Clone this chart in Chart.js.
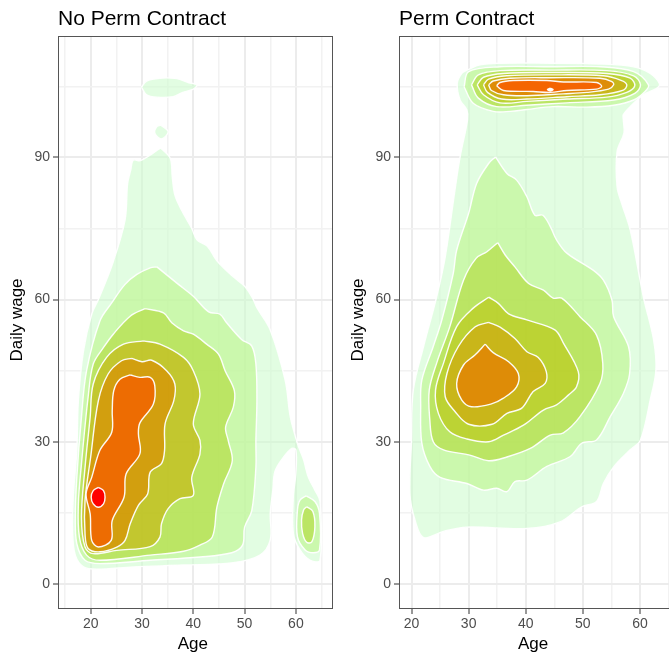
<!DOCTYPE html>
<html>
<head>
<meta charset="utf-8">
<title>Daily wage by age</title>
<script src="https://cdn.jsdelivr.net/npm/chart.js@4"></script>
<style>
  html, body { margin: 0; background: #fff; overflow: hidden; }
  canvas { position: absolute; top: 0; }
  #noPerm { left: 0; }
  #perm { left: 341px; }
</style>
</head>
<body>
<canvas id="noPerm" width="334" height="659"></canvas>
<canvas id="perm" width="332" height="659"></canvas>
<script>
// tick values
const yMajor = [0, 30, 60, 90];
const yMinor = [15, 45, 75, 105];
const xMajor = [20, 30, 40, 50, 60];
const xMinorNoPerm = [15, 25, 35, 45, 55, 65];
const xMinorPerm = [25, 35, 45, 55, 65];

// contours, [age, wage]
const noPermOuter = [[33.6,92],[35.5,89.8],[35.9,85.9],[36.4,82.1],[37.7,78.9],[39.7,75],[40.7,72.6],[42.7,71.3],[44.6,68.2],[47.8,64.8],[50.1,62.7],[51.7,60],[52.4,58.3],[55,53.6],[57.9,43],[58.9,35.3],[60,30.7],[60.5,29],[61.5,26.2],[62.4,22.6],[63.7,19.8],[64.7,17.4],[64.7,5],[62.8,5],[60.8,7.2],[59.5,10.7],[59.5,18.4],[60,23.4],[60,28.3],[59.2,28.6],[57.2,26.2],[55.9,23.7],[55.5,19.8],[55,14.9],[55,9.3],[53,6.1],[47.8,4.5],[38.1,4],[28.3,3.6],[21.2,3.1],[18.6,3.6],[17,6.1],[16.5,10.6],[16.6,18.3],[17.3,28.2],[17.6,38.7],[18.6,49.2],[20.2,56.9],[21.5,60],[24.4,68],[26.7,76.8],[27.2,84.5],[27.8,87.3],[28.3,89.4],[29.7,89.3],[31.9,90.7]];
const noPermTopBlob = [[29.9,104.8],[30.9,106.1],[33.5,106.7],[36.8,106.6],[39,105.8],[40.7,105.3],[40,104.4],[37.7,103.6],[36.1,102.8],[32.9,102.7],[30.9,103.2]];
const noPermSmallBlob = [[33.7,96.8],[35.1,95.4],[33.8,93.9],[32.5,95.1],[32.9,96.5]];
const noPermLevel2 = [[32.9,66.9],[37.1,63.2],[40,60.7],[43,57.4],[45.2,56.9],[46.5,55.1],[49.4,51.6],[51.4,50.2],[52.2,46.4],[52.4,38.7],[52.2,30.2],[52.2,24.6],[51.4,15.5],[50,12],[49.6,8.2],[47.5,6.6],[41.3,5.7],[31.6,5],[21.8,4.3],[18.9,5],[17.3,8.5],[17,14.1],[17.3,22.5],[18.2,35.2],[19.2,45],[21.8,55.5],[24.1,59.3],[26.7,63.2],[29,65.3],[31.6,66.7]];
const noPermLevel2Side = [[62,18.6],[63.7,17.4],[64.6,14.9],[64.6,7.2],[63.4,6.6],[61.8,7.2],[60.3,10],[60.3,15.6],[60.8,17.7]];
const noPermLevel3 = [[30.6,58.1],[34.2,57.2],[35.8,55.1],[38.1,53.4],[40,52.7],[42.6,50.6],[44.9,48.5],[46.2,45],[48,40.8],[47.8,37.3],[46.3,33.1],[46.8,30.3],[47.6,26],[45.9,21.1],[44.6,16.2],[43.7,9.9],[41.3,8.2],[38.1,6.9],[31.6,6.1],[21.8,5],[19.2,6.1],[17.8,9.9],[17.6,16.9],[18.2,25.3],[19.5,39.4],[20.5,46.4],[22.5,49.9],[24.4,52.7],[27.7,56.5]];
const noPermLevel3Side = [[62.1,16.3],[63.3,15.3],[63.7,12.1],[63.1,8.9],[62.1,8.8],[61.3,10.7],[61.1,13.5],[61.5,15.6]];
const noPermLevel4 = [[30.3,51.3],[33.5,50.6],[38.1,47.8],[40,45],[41.3,40.1],[40,33.8],[41.3,30.3],[41.3,27.4],[39.7,22.5],[40,18.7],[37.4,18],[35.1,15.9],[33.8,12.7],[33.5,9.9],[31.6,7.9],[25.1,7.1],[20.5,6.4],[18.9,7.8],[18.2,14.1],[18.9,24.6],[19.9,35.2],[20.5,42.2],[23.1,47.8],[26.4,50.6]];
const noPermLevel5 = [[28,47.6],[30,46.9],[31.9,47.2],[34.8,45],[36.4,42.2],[36.2,38.7],[34.5,33.8],[34.4,28.2],[33.8,25.4],[31.6,23.6],[31.1,19],[29.3,16.6],[27.7,12.7],[26.7,9.2],[25.1,7.8],[21.8,6.8],[19.5,7.5],[18.9,10.6],[18.9,17.6],[20,26.8],[21.5,38.7],[23.4,44.3],[26,47.1]];
const noPermLevel6 = [[27.7,44.1],[29.6,43.6],[31.6,43.6],[32.5,41.8],[32.2,37.9],[29.6,34],[29.3,31.7],[29.6,27.5],[26.9,23.2],[26.5,18.3],[24.2,13.4],[24,9.2],[21.5,7.8],[20.2,9.2],[19.9,14.8],[19.1,19],[20.2,22.5],[21.8,28.2],[24.1,32],[24.2,36.6],[24.5,40.8],[25.7,43.2]];
const noPermLevel7 = [[21.5,20.4],[22.5,19.7],[22.8,18.3],[22.5,16.9],[21.5,16.2],[20.5,16.9],[20.1,18.3],[20.5,19.7]];

const permOuter = [[29.7,108.4],[32,109.5],[35.5,109.85],[44.3,109.85],[53,109.7],[58.9,109.1],[61.8,107.7],[63.4,105.6],[63,104.6],[60.6,103.2],[58.3,100.7],[57.1,99],[57.1,97.9],[57.2,95.1],[56,91.2],[56,83.8],[56.8,80.3],[58.3,74.7],[60.6,60.6],[62.4,51.5],[62.8,45.1],[61.8,38.8],[60.1,30.4],[58.3,28.3],[55.4,24.7],[53.6,21.2],[52.4,17.4],[49.8,16.3],[46,13.1],[40.2,11.7],[29.7,12],[25.6,11.1],[22.1,9.8],[20.6,13.5],[19.7,19.1],[20,30.4],[20.3,40.9],[22.1,50.1],[24.4,60.6],[25.9,69],[27.6,83.1],[28.5,90.1],[29.8,97.9],[29.7,100],[28.5,102.1],[28,105.6],[28.8,107.7]];
const permLevel2Top = [[29.2,104.9],[30,108.1],[35.5,109.1],[44.3,109.1],[53,109.1],[58.9,108.1],[61.5,105.3],[60.9,103.9],[58.9,102.1],[55.4,101],[50.7,100.6],[44.8,100.7],[40.2,100.1],[37.3,99.7],[34.3,99.7],[30.8,101.4]];
const permLevel2 = [[34.7,90.1],[36.7,86.6],[38.4,85.2],[40.2,81.7],[41.6,77.8],[43,77.8],[44.3,75.4],[45.4,72.6],[47.2,69.8],[51.8,66.2],[53.6,64.1],[55.1,59.9],[55.4,56.4],[58,50.1],[58.2,44.4],[57.1,40.2],[54.8,35.3],[52.4,30.4],[49.8,29.7],[47.8,26.9],[43.7,24.8],[40.2,21.9],[38.1,21.6],[36.7,19.5],[34.9,20.2],[32.6,19.8],[29.7,21.2],[25,22.5],[23.2,24.8],[21.8,29.7],[21.6,37.4],[21.8,43],[23.8,50.1],[25.3,55.7],[27.3,65.5],[27.9,70.4],[30,78.2],[31.4,84.5],[33.5,88.7]];
const permLevel3Top = [[30.5,105.3],[31.7,107.4],[35.5,108.3],[44.3,108.4],[54.2,108.3],[58.9,107.2],[60.1,105.3],[59.1,103.5],[55.4,102.1],[47.2,101.5],[40.2,101],[34.9,100.7],[31.7,102.5]];
const permLevel3 = [[35.1,72],[36.4,69.4],[38.1,66.9],[40.5,63.4],[43.1,62],[44.8,60.3],[46.3,60.3],[49.5,56.4],[52.4,52.5],[53.5,46.5],[53,42.3],[49.5,35.3],[46.6,31.9],[44.3,31.4],[40.8,28.6],[36.7,26.8],[33.5,26],[30.2,27.2],[25.6,28.3],[23.8,30],[23.2,34.6],[23.1,40.9],[24.4,46.6],[26.7,54.3],[29.1,64.1],[31.3,68.7],[33.2,70.1]];
const permLevel4Top = [[31.5,105.3],[32.6,106.9],[36.1,107.7],[44.3,107.9],[54.2,107.7],[58.3,106.7],[59.1,105.1],[57.7,103.7],[54.2,102.7],[47.2,102.3],[40.2,101.8],[35.5,101.5],[32.6,103.2]];
const permLevel4 = [[33.5,60.5],[35.2,59.2],[37,57],[40.2,55.7],[45.1,53.6],[46.6,50.8],[49.2,44.8],[48.9,41.6],[47.5,39.9],[45.4,37.8],[43.1,36.7],[39.6,33.5],[36.1,31.4],[33.5,30],[29.7,30.6],[26.7,32.1],[24.7,36],[24.2,40.9],[25.6,46.6],[27.9,54.3],[30.8,58.2]];
const permLevel5Top = [[32.6,105.3],[33.5,106.5],[36.7,107.2],[44.3,107.4],[53.6,107.2],[56.8,106.2],[57.7,105.3],[57.1,104.2],[53,103.2],[47.2,102.8],[40.2,102.3],[35.8,102.3],[33.3,103.7]];
const permLevel5 = [[33.5,55.2],[35.5,54.2],[38.1,51.8],[40.2,49],[42.2,47.8],[43.6,44.8],[43.4,42.3],[41.3,40.6],[39.3,37.1],[36.7,36],[34.1,33.7],[30,33.7],[27.6,36.4],[25.9,39.5],[26.2,44.4],[28.2,50.1],[31.1,54.2]];
const permLevel6Top = [[33.5,105.3],[34.3,106.1],[37.3,106.7],[44.3,106.8],[53,106.7],[55.1,106],[55.4,105.3],[54.5,104.4],[50.7,103.7],[46.6,103.4],[40.2,103],[36.1,103.2],[34,104.1]];
const permLevel6 = [[32.9,50.6],[34.3,48.8],[37,46.9],[38.7,44.4],[38.4,41.6],[36.1,39.2],[34,38],[30.5,37.4],[28.8,38.8],[27.9,42.3],[29.1,46.2],[31.1,48.3]];
const permLevel7 = [[34.9,105.1],[35.5,105.8],[37.8,106.2],[43.7,106.2],[46.6,105.9],[52.4,105.8],[53.3,105],[52.4,104.4],[47.2,104.1],[44.3,103.7],[41.3,103.9],[36.1,104.1]];
const permLevel8 = [[44.3,104.6],[44.8,104.3],[44.3,104],[43.8,104.3]];

// fill colours per level (translucent, so the grid shows through the light ones)
const c1 = 'rgba(207,252,207,0.6)';
const c2 = 'rgba(189,245,139,0.6)';
const c3 = 'rgba(177,216,52,0.6)';
const noPermColors = ['rgba(197,185,24,0.7)', 'rgba(214,149,7,0.8)', 'rgba(239,102,1,0.9)', '#ff0000'];
const permColors = ['rgba(188,202,32,0.7)', 'rgba(204,175,20,0.8)', 'rgba(224,135,6,0.9)', '#f46502', '#fff'];

function contour(points, color) {
  const pts = points.concat([points[0]]).map(p => ({ x: p[0], y: p[1] }));
  return { data: pts, backgroundColor: color, borderColor: 'rgba(255,255,255,0.95)', borderWidth: 1.4, fill: 'shape', showLine: true, tension: 0.35, pointRadius: 0 };
}

// panel frame and axis titles (the titles sit a little off the plot centre in the original)
const panelExtras = {
  id: 'panelExtras',
  afterDatasetsDraw(chart, args, opts) {
    const a = chart.chartArea;
    const ctx = chart.ctx;
    ctx.save();
    ctx.strokeStyle = '#555';
    ctx.lineWidth = 1;
    ctx.strokeRect(a.left + 0.5, a.top + 0.5, a.right - a.left - 1, a.bottom - a.top - 1);
    ctx.fillStyle = '#000';
    ctx.font = '17px "Liberation Sans"';
    ctx.textAlign = 'center';
    ctx.textBaseline = 'middle';
    ctx.fillText('Age', opts.ageX, 644);
    ctx.translate(17, 320);
    ctx.rotate(-Math.PI / 2);
    ctx.fillText('Daily wage', 0, 0);
    ctx.restore();
  }
};

function makePanel(id, title, sets, xMin, xMax, xMinor, rightPad, ageX) {
  const isMajor = (v, list) => list.includes(v);
  // later levels have to be painted on top
  sets.forEach((s, i) => { s.order = sets.length - i; });
  return new Chart(document.getElementById(id), {
    type: 'scatter',
    data: { datasets: sets },
    plugins: [panelExtras],
    options: {
      responsive: false,
      animation: false,
      layout: { padding: { right: rightPad } },
      plugins: {
        legend: { display: false },
        tooltip: { enabled: false },
        panelExtras: { ageX: ageX },
        title: { display: true, text: title, align: 'start', fullSize: false, color: '#000', padding: { top: 7, bottom: 3.8 }, font: { family: 'Liberation Sans', size: 21, weight: 'normal' } }
      },
      scales: {
        x: {
          type: 'linear', min: xMin, max: xMax,
          afterBuildTicks: s => { s.ticks = xMajor.concat(xMinor).sort((a, b) => a - b).map(v => ({ value: v })); },
          afterFit: s => { s.height = 50; s.paddingLeft = 0; s.paddingRight = 0; },
          ticks: { color: '#4d4d4d', padding: 2, maxRotation: 0, autoSkip: false, font: { family: 'Liberation Sans', size: 14 }, callback: v => isMajor(v, xMajor) ? String(v) : '' },
          grid: {
            tickLength: 5,
            color: c => isMajor(c.tick.value, xMajor) ? '#ececec' : '#f2f2f2',
            lineWidth: c => isMajor(c.tick.value, xMajor) ? 2 : 1.5,
            tickColor: c => isMajor(c.tick.value, xMajor) ? '#333' : 'rgba(0,0,0,0)',
            tickWidth: 1
          },
          border: { display: false }
        },
        y: {
          type: 'linear', min: -5.27, max: 115.6,
          afterBuildTicks: s => { s.ticks = yMajor.concat(yMinor).sort((a, b) => a - b).map(v => ({ value: v })); },
          afterFit: s => { s.width = 58; s.paddingTop = 0; s.paddingBottom = 0; },
          ticks: { color: '#4d4d4d', padding: 3, autoSkip: false, font: { family: 'Liberation Sans', size: 14 }, callback: v => isMajor(v, yMajor) ? String(v) : '' },
          grid: {
            tickLength: 5,
            color: c => isMajor(c.tick.value, yMajor) ? '#ececec' : '#f2f2f2',
            lineWidth: c => isMajor(c.tick.value, yMajor) ? 2 : 1.5,
            tickColor: c => isMajor(c.tick.value, yMajor) ? '#333' : 'rgba(0,0,0,0)',
            tickWidth: 1
          },
          border: { display: false }
        }
      }
    }
  });
}

makePanel('noPerm', 'No Perm Contract', [
  contour(noPermOuter, c1), contour(noPermTopBlob, c1), contour(noPermSmallBlob, c1),
  contour(noPermLevel2, c2), contour(noPermLevel2Side, c2),
  contour(noPermLevel3, c3), contour(noPermLevel3Side, c3),
  contour(noPermLevel4, noPermColors[0]), contour(noPermLevel5, noPermColors[1]),
  contour(noPermLevel6, noPermColors[2]), contour(noPermLevel7, noPermColors[3])
], 13.63, 67.23, xMinorNoPerm, 1, 192.8);

makePanel('perm', 'Perm Contract', [
  contour(permOuter, c1),
  contour(permLevel2Top, c2), contour(permLevel2, c2),
  contour(permLevel3Top, c3), contour(permLevel3, c3),
  contour(permLevel4Top, permColors[0]), contour(permLevel4, permColors[0]),
  contour(permLevel5Top, permColors[1]), contour(permLevel5, permColors[1]),
  contour(permLevel6Top, permColors[2]), contour(permLevel6, permColors[2]),
  contour(permLevel7, permColors[3]), contour(permLevel8, permColors[4])
], 17.8, 65.27, xMinorPerm, 3, 192);
</script>
</body>
</html>
